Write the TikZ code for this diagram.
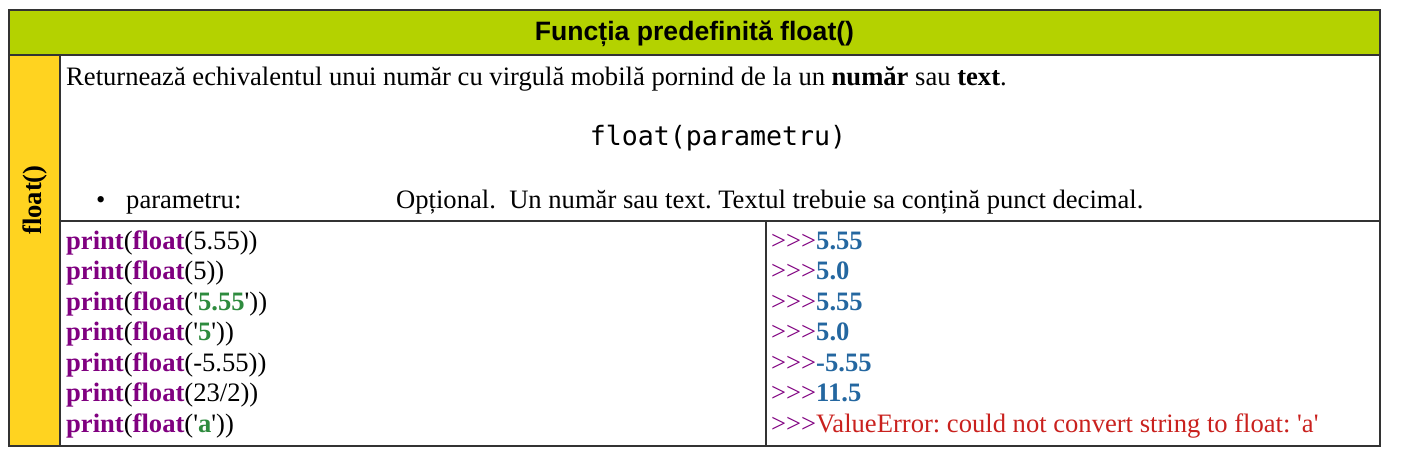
\documentclass[tikz,border=0pt]{standalone}
\usepackage{fontspec}
\setmainfont{Liberation Serif}
\setsansfont{Liberation Sans}
\setmonofont{DejaVu Sans Mono}
\usetikzlibrary{positioning}
\frenchspacing

\definecolor{headgreen}{HTML}{B4D200}
\definecolor{sidegold}{HTML}{FFD320}
\definecolor{kwpurple}{HTML}{800080}
\definecolor{strgreen}{HTML}{2E8B3E}
\definecolor{outblue}{HTML}{2467A0}
\definecolor{errred}{HTML}{C9211E}
\definecolor{rulegray}{HTML}{333333}

\newcommand{\kw}[1]{\textcolor{kwpurple}{\textbf{#1}}}
\newcommand{\pystr}[1]{\textquotesingle\textcolor{strgreen}{\textbf{#1}}\textquotesingle}
\newcommand{\prompt}{\textcolor{kwpurple}{>{}>{}>}}
\newcommand{\res}[1]{\prompt\textcolor{outblue}{\textbf{#1}}}

\begin{document}
\begin{tikzpicture}[x=1pt,y=-1pt,
    every node/.style={inner sep=0pt, font=\fontsize{26.6}{30.5}\selectfont},
    txt/.style={anchor=base west},
    rule/.style={rulegray, line width=1.5pt}]
    \useasboundingbox (0,0) rectangle (1403,456);

    % header band and side column
    \fill[headgreen] (9,10) rectangle (1380,55);
    \fill[sidegold] (9,55) rectangle (60,446);
    \draw[rule] (9,10) rectangle (1380,446);
    \draw[rule] (9,55) -- (1380,55);
    \draw[rule] (60,55) -- (60,446);
    \draw[rule] (60,221) -- (1380,221);
    \draw[rule] (766,221) -- (766,446);

    \node[anchor=base] (title) at (694.5,40) {\sffamily\bfseries Funcția predefinită float()};
    \node[rotate=90] (side) at (35,200) {\bfseries float()};

    % description
    \node[txt] (desc) at (66,85) {Returnează echivalentul unui număr cu virgulă mobilă pornind de la un \textbf{număr} sau \textbf{text}.};
    \node[anchor=base] (syntax) at (718,145) {\ttfamily float(parametru)};
    \node[txt] (bullet) at (96,208) {\textbullet};
    \node[txt] (param) at (126,208) {parametru:};
    \node[txt] (paraminfo) at (396,208) {Opțional.\ \ Un număr sau text. Textul trebuie sa conțină punct decimal.};

    % examples
    \foreach \code [count=\i] in {
        {\kw{print}(\kw{float}(5.55))},
        {\kw{print}(\kw{float}(5))},
        {\kw{print}(\kw{float}(\pystr{5.55}))},
        {\kw{print}(\kw{float}(\pystr{5}))},
        {\kw{print}(\kw{float}(-5.55))},
        {\kw{print}(\kw{float}(23/2))},
        {\kw{print}(\kw{float}(\pystr{a}))}}
        \node[txt] (code\i) at (66,{249+30.5*(\i-1)}) {\code};

    \foreach \out [count=\i] in {
        {\res{5.55}},
        {\res{5.0}},
        {\res{5.55}},
        {\res{5.0}},
        {\res{-5.55}},
        {\res{11.5}},
        {\prompt\textcolor{errred}{ValueError: could not convert string to float: \textquotesingle a\textquotesingle}}}
        \node[txt] (out\i) at (771,{249+30.5*(\i-1)}) {\out};
\end{tikzpicture}
\end{document}
